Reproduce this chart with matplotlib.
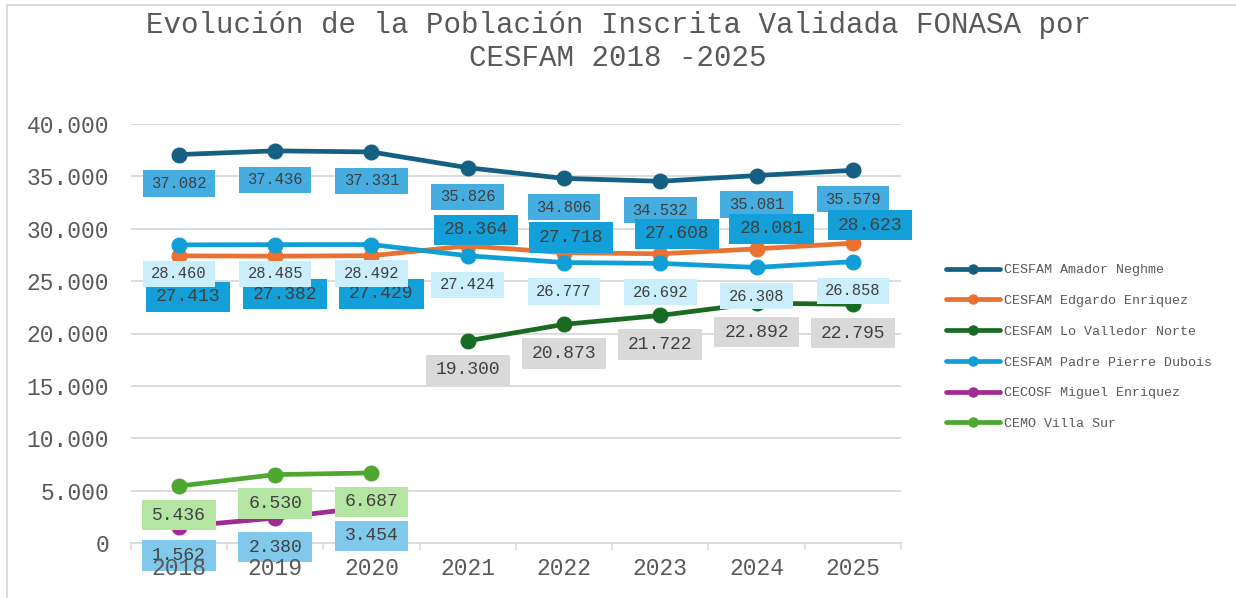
import numpy as np
import matplotlib
matplotlib.use("Agg")
import matplotlib.pyplot as plt
from matplotlib.path import Path
from matplotlib.patches import Rectangle
from matplotlib.ticker import FuncFormatter, FixedLocator

# ---------------- data ----------------
years = ["2018", "2019", "2020", "2021", "2022", "2023", "2024", "2025"]
amador = [37082, 37436, 37331, 35826, 34806, 34532, 35081, 35579]
edgardo = [27413, 27382, 27429, 28364, 27718, 27608, 28081, 28623]
valledor = [None, None, None, 19300, 20873, 21722, 22892, 22795]
pierre = [28460, 28485, 28492, 27424, 26777, 26692, 26308, 26858]
miguel = [1562, 2380, 3454, None, None, None, None, None]
villa = [5436, 6530, 6687, None, None, None, None, None]
series_names = ["CESFAM Amador Neghme", "CESFAM Edgardo Enriquez",
                "CESFAM Lo Valledor Norte", "CESFAM Padre Pierre Dubois",
                "CECOSF Miguel Enriquez", "CEMO Villa Sur"]
title_lines = ["Evolución de la Población Inscrita Validada FONASA por",
               "CESFAM 2018 -2025"]

# ---------------- style ----------------
line_colors = ["#156082", "#E97132", "#196B24", "#0F9ED5", "#A02B93", "#4EA72E"]
box_colors = ["#45ADE0", "#139FD8", "#D9D9D9", "#CAEEFB", "#80C9EB", "#B5E5A2"]
label_sizes = [11.2, 13, 13, 11.2, 13, 13]
# label offsets in pixels (dx, dy); default below point
default_off = (0, -29)
edgardo_off = [(9, -41), (10, -38), (10, -38), (8, 16), (7, 15), (17, 20), (15, 20), (17, 18)]

FONT = "Liberation Mono"
GRAY = "#595959"
GRID = "#D9D9D9"
plt.rcParams["font.family"] = [FONT, "DejaVu Sans"]

W, H = 1236, 598
fig = plt.figure(figsize=(W / 100, H / 100), dpi=100)
ax = fig.add_axes([130.7 / W, 1 - 543 / H, (901 - 130.7) / W, (543 - 124) / H])

def fmt(v):
    return f"{int(v):,}".replace(",", ".")

def custom_box(x0, y0, width, height, mutation_size):
    hp = 0.55 * mutation_size
    hh = 0.84 * mutation_size
    cy = y0 + height / 2
    return Path.unit_rectangle().transformed(
        matplotlib.transforms.Affine2D().scale(width + 2 * hp, 2 * hh)
        .translate(x0 - hp, cy - hh))

all_series = [amador, edgardo, valledor, pierre, miguel, villa]
x = np.arange(len(years))
lines = []
for i, s in enumerate(all_series):
    vals = np.array([np.nan if v is None else v for v in s], dtype=float)
    ln, = ax.plot(x, vals, color=line_colors[i], lw=3.4, marker="o", ms=10.5,
                  solid_capstyle="round", zorder=2 + i * 0.01, label=series_names[i])
    lines.append(ln)

for i, s in enumerate(all_series):
    for j, v in enumerate(s):
        if v is None:
            continue
        off = edgardo_off[j] if i == 1 else default_off
        ax.annotate(fmt(v), xy=(j, v), xytext=off, textcoords="offset pixels",
                    ha="center", va="center", fontsize=label_sizes[i],
                    color="#404040", zorder=3 + i * 0.01,
                    bbox=dict(boxstyle=custom_box, fc=box_colors[i], ec="none"))

ax.set_xlim(-0.5, len(years) - 0.5)
ax.set_ylim(0, 40000)
ax.yaxis.set_major_locator(FixedLocator(np.arange(0, 40001, 5000)))
ax.yaxis.set_major_formatter(FuncFormatter(lambda v, p: fmt(v)))
ax.grid(axis="y", color=GRID, lw=1.3)
ax.set_axisbelow(True)
ax.xaxis.set_zorder(10)

ax.set_xticks(np.arange(-0.5, len(years), 1.0))
ax.set_xticklabels([])
ax.set_xticks(x, minor=True)
ax.set_xticklabels(years, minor=True)
ax.tick_params(axis="x", which="major", length=5, width=1.1, color=GRID, direction="out")
ax.tick_params(axis="x", which="minor", length=0, pad=10, labelsize=16.5, labelcolor=GRAY)
ax.tick_params(axis="y", length=0, pad=15.5, labelsize=16.5, labelcolor=GRAY)
for side in ["top", "right", "left"]:
    ax.spines[side].set_visible(False)
ax.spines["bottom"].set_color(GRID)
ax.spines["bottom"].set_linewidth(1.3)

leg = fig.legend(handles=lines, loc="center left",
                 bbox_to_anchor=(946 / W, 1 - 347 / H), frameon=False,
                 fontsize=9.6, handlelength=4.05, handletextpad=0.3,
                 labelspacing=1.38, borderpad=0, borderaxespad=0, markerscale=0.62)
for t in leg.get_texts():
    t.set_color(GRAY)

fig.text(0.5, 1 - 33.3 / H, title_lines[0], ha="center", va="baseline",
         fontsize=21, color=GRAY)
fig.text(0.5, 1 - 65.6 / H, title_lines[1], ha="center", va="baseline",
         fontsize=21, color=GRAY)

fig.add_artist(Rectangle((7 / W, -0.2), 1.2, 1.2 - 5 / H, transform=fig.transFigure,
                         fill=False, ec=GRID, lw=1.3))

fig.savefig("out.png", dpi=100)
